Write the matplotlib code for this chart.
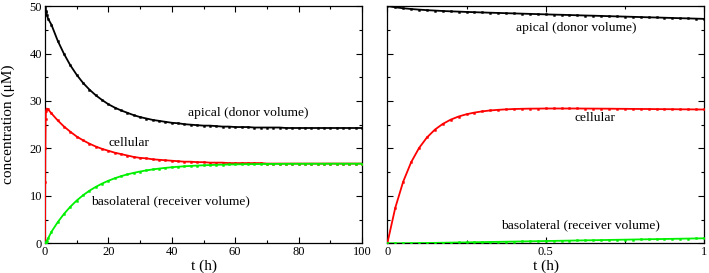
"""Apical / cellular / basolateral concentration over time, long and short windows."""
import matplotlib
matplotlib.use("Agg")
import matplotlib.pyplot as plt
from matplotlib.ticker import MultipleLocator, FuncFormatter

plt.rcParams["font.family"] = ["Liberation Serif", "DejaVu Serif"]

# ------------------------------------------------------------------ data
# long window (h)
t_long = [0, 0.05, 0.1, 0.2, 0.3, 0.5, 1,
          2, 4, 6, 8, 10, 12, 14, 16, 18, 20, 22, 24, 26, 28, 30,
          32, 34, 36, 38, 40, 42, 44, 46, 48, 50, 52, 54, 56, 58, 60,
          62, 64, 66, 68, 70, 72, 74, 76, 78, 80, 82, 84, 86, 88, 90,
          92, 94, 96, 98, 100]
apical_long = [50.0, 49.5, 49.2, 48.9, 48.7, 48.2, 47.3,
               46.1, 42.7, 39.9, 37.5, 35.5, 33.8, 32.4, 31.2, 30.2, 29.3, 28.6, 28.0, 27.5, 27.0, 26.6,
               26.3, 26.0, 25.8, 25.6, 25.4, 25.3, 25.1, 25.0, 24.9, 24.8, 24.8, 24.7, 24.6, 24.6, 24.5,
               24.5, 24.5, 24.4, 24.4, 24.4, 24.4, 24.4, 24.3, 24.3, 24.3, 24.3, 24.3, 24.3, 24.3, 24.3,
               24.3, 24.3, 24.3, 24.3, 24.3]
cellular_long = [0.0, 13.0, 20.1, 26.1, 27.8, 28.4, 28.2,
                 27.4, 25.9, 24.6, 23.5, 22.5, 21.7, 21.0, 20.4, 19.9, 19.5, 19.1, 18.8, 18.5, 18.2, 18.0,
                 17.9, 17.7, 17.6, 17.5, 17.4, 17.3, 17.2, 17.2, 17.1, 17.1, 17.0, 17.0, 17.0, 16.9, 16.9,
                 16.9, 16.9, 16.9, 16.9, 16.8, 16.8, 16.8, 16.8, 16.8, 16.8, 16.8, 16.8, 16.8, 16.8, 16.8,
                 16.8, 16.8, 16.8, 16.8, 16.8]
basolateral_long = [0.0, 0.01, 0.05, 0.14, 0.25, 0.48, 1.06,
                    2.40, 4.45, 6.21, 7.72, 9.02, 10.13, 11.08, 11.89, 12.59, 13.19, 13.71, 14.15, 14.53, 14.85, 15.13,
                    15.37, 15.57, 15.75, 15.90, 16.03, 16.14, 16.23, 16.31, 16.38, 16.44, 16.49, 16.54, 16.57, 16.61, 16.63,
                    16.66, 16.68, 16.69, 16.71, 16.72, 16.73, 16.74, 16.75, 16.76, 16.76, 16.77, 16.77, 16.77, 16.77, 16.78,
                    16.78, 16.78, 16.78, 16.78, 16.78]

# short window (h)
t_short = [0.0, 0.025, 0.05, 0.075, 0.1, 0.125, 0.15, 0.175, 0.2, 0.225,
           0.25, 0.275, 0.3, 0.325, 0.35, 0.375, 0.4, 0.425, 0.45, 0.475,
           0.5, 0.525, 0.55, 0.575, 0.6, 0.625, 0.65, 0.675, 0.7, 0.725,
           0.75, 0.775, 0.8, 0.825, 0.85, 0.875, 0.9, 0.925, 0.95, 0.975, 1.0]
apical_short = [50.00, 49.74, 49.54, 49.38, 49.25, 49.14, 49.05, 48.96, 48.89, 48.83,
                48.76, 48.71, 48.65, 48.60, 48.55, 48.50, 48.45, 48.40, 48.35, 48.30,
                48.25, 48.20, 48.16, 48.11, 48.06, 48.01, 47.97, 47.92, 47.87, 47.82,
                47.78, 47.73, 47.68, 47.63, 47.59, 47.54, 47.49, 47.44, 47.40, 47.35, 47.30]
cellular_short = [0.0, 7.46, 12.98, 17.06, 20.07, 22.30, 23.95, 25.16, 26.06, 26.72,
                  27.20, 27.55, 27.81, 28.00, 28.13, 28.23, 28.30, 28.35, 28.38, 28.39,
                  28.41, 28.41, 28.41, 28.41, 28.41, 28.40, 28.39, 28.38, 28.37, 28.35,
                  28.34, 28.32, 28.31, 28.30, 28.28, 28.27, 28.26, 28.24, 28.23, 28.21, 28.20]
basolateral_short = [0.0, 0.004, 0.014, 0.029, 0.048, 0.069, 0.093, 0.117, 0.143, 0.170,
                     0.197, 0.224, 0.252, 0.280, 0.308, 0.337, 0.365, 0.394, 0.423, 0.451,
                     0.480, 0.509, 0.537, 0.566, 0.595, 0.624, 0.652, 0.681, 0.710, 0.739,
                     0.767, 0.796, 0.825, 0.854, 0.882, 0.911, 0.940, 0.969, 0.997, 1.026, 1.055]

BLACK, RED, GREEN = "#000000", "#ff0000", "#00f000"


def draw(ax, t, series):
    for y, c in series:
        ax.plot(t, y, color=c, lw=1.3, marker="s", ms=1.3, mfc=c, mec=c, mew=0.4, zorder=3)
    ax.tick_params(which="both", direction="in", top=True, right=True,
                   labelsize=9, pad=2, width=0.8)
    ax.tick_params(which="major", length=4)
    ax.tick_params(which="minor", length=2.5)
    for s in ax.spines.values():
        s.set_linewidth(0.9)
    ax.set_ylim(0, 50)
    ax.yaxis.set_major_locator(MultipleLocator(10))
    ax.yaxis.set_minor_locator(MultipleLocator(5))
    ax.set_xlabel("t (h)", fontsize=11)
    ax.xaxis.set_label_coords(0.5, -0.068)


fig = plt.figure(figsize=(7.09, 2.73), dpi=100)
ax1 = fig.add_axes([0.0635, 0.1088, 0.4471, 0.869])
ax2 = fig.add_axes([0.5463, 0.1088, 0.4467, 0.869])

draw(ax1, t_long, [(apical_long, BLACK), (cellular_long, RED), (basolateral_long, GREEN)])
ax1.set_xlim(0, 100)
ax1.xaxis.set_major_locator(MultipleLocator(20))
ax1.xaxis.set_minor_locator(MultipleLocator(10))
ax1.set_ylabel("concentration (μM)", fontsize=11)
ax1.yaxis.set_label_coords(-0.095, 0.5)
ax1.text(45.1, 27.5, "apical (donor volume)", fontsize=9.7, va="center")
ax1.text(19.9, 21.1, "cellular", fontsize=9.7, va="center")
ax1.text(14.4, 8.8, "basolateral (receiver volume)", fontsize=9.7, va="center")

draw(ax2, t_short, [(apical_short, BLACK), (cellular_short, RED), (basolateral_short, GREEN)])
ax2.set_xlim(0, 1)
ax2.xaxis.set_major_locator(MultipleLocator(0.5))
ax2.xaxis.set_minor_locator(MultipleLocator(0.25))
ax2.xaxis.set_major_formatter(FuncFormatter(lambda v, _: f"{v:g}"))
ax2.tick_params(labelleft=False)
ax2.text(0.406, 45.4, "apical (donor volume)", fontsize=9.7, va="center")
ax2.text(0.592, 26.4, "cellular", fontsize=9.7, va="center")
ax2.text(0.359, 3.9, "basolateral (receiver volume)", fontsize=9.7, va="center")

fig.savefig("out.png", dpi=100)
